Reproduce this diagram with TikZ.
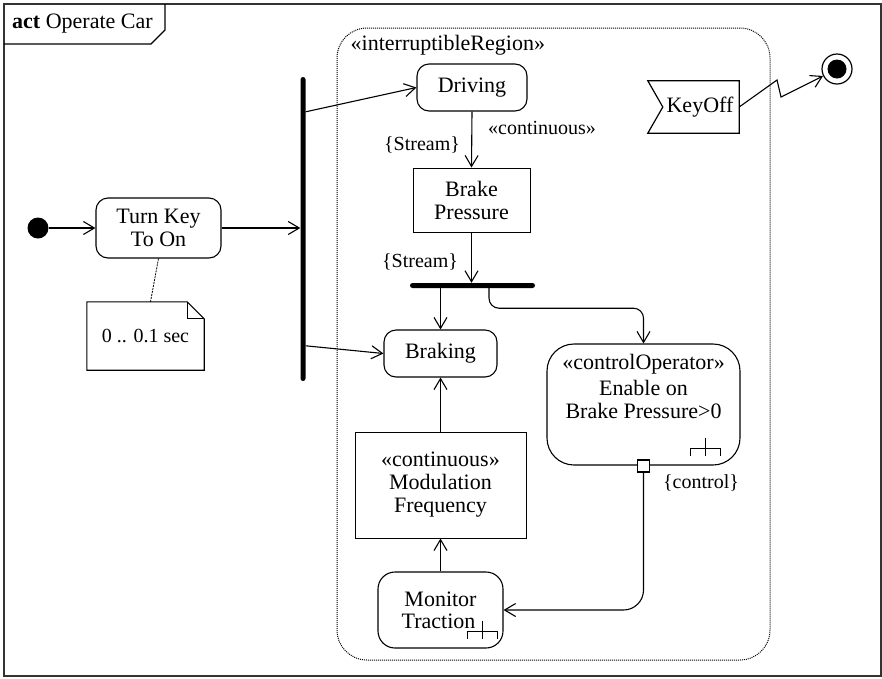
\documentclass[tikz,border=0pt]{standalone}
\usepackage{fontspec}
\setmainfont{Liberation Serif}
\usetikzlibrary{arrows.meta}
\begin{document}
\begin{tikzpicture}[x=1pt,y=-1pt,
  every node/.style={font=\fontsize{22}{23}\selectfont, inner sep=0pt},
  flow/.style={line width=1.1pt, -{Straight Barb[length=11pt,width=13pt,line width=1.1pt]}},
  action/.style={draw, line width=1.1pt, rounded corners=12pt, align=center},
  objnode/.style={draw, line width=1pt, align=center},
  bar/.style={fill=black, rounded corners=2.5pt, minimum width=5pt},
  lbl/.style={font=\fontsize{20}{22}\selectfont},
  rake/.pic={
    \draw[line width=1.1pt] (-15,7) -- (-15,0) -- (15,0) -- (15,7);
    \draw[line width=1.1pt] (0,-11) -- (0,7);
  }
]
\useasboundingbox (0,0) rectangle (882,678);
\fill[white] (0,0) rectangle (882,678);

% diagram frame with its name tag
\draw[line width=1.5pt, draw=black!80] (4,4) rectangle (881,676);
\draw[line width=1.2pt] (4,44) -- (151,44) -- (165,30) -- (165,4);
\node[anchor=west] (title) at (12,24) {\textbf{act} Operate Car};

% interruptible region
\node[draw, line width=1pt, dash pattern=on 1pt off 1pt, rounded corners=30pt,
      minimum width=433pt, minimum height=632pt] (region) at (553.5,344) {};
\node[anchor=west] (regionlbl) at ([xshift=14pt,yshift=-18pt]region.north west) {«interruptibleRegion»};

% initial and final nodes
\node[circle, fill=black, minimum size=21pt] (init) at (38,228) {};
\node[circle, draw, line width=1.2pt, minimum size=30pt] (final) at (837,69) {};
\node[circle, fill=black, minimum size=19pt] (finaldot) at (837,69) {};

% actions and object nodes
\node[action, minimum width=125pt, minimum height=60pt] (turnkey) at (158.5,228) {Turn Key\\To On};
\node[minimum width=117pt, minimum height=68pt, font=\fontsize{20}{22}\selectfont] (note) at (145.5,336) {0 .. 0.1 sec};
\draw[line width=1.1pt] (note.north west) -- ([xshift=-17pt]note.north east) -- ([yshift=-17pt]note.north east)
  -- (note.south east) -- (note.south west) -- cycle;
\draw[line width=1pt] ([xshift=-17pt]note.north east) -- ([xshift=-17pt,yshift=-17pt]note.north east) -- ([yshift=-17pt]note.north east);
\draw[line width=0.8pt, dash pattern=on 2pt off 1pt] (turnkey.south) -- ([xshift=5pt]note.north);

\node[bar, minimum height=304pt] (forkv) at (303,229) {};

\node[action, minimum width=110pt, minimum height=47pt] (driving) at (472,87.5) {Driving};
\node[objnode, minimum width=117pt, minimum height=64pt] (bp) at (471.5,200) {Brake\\Pressure};
\node[bar, minimum width=125pt, minimum height=5pt] (forkh) at (472.5,285.5) {};
\node[action, minimum width=113pt, minimum height=47pt] (braking) at (440.5,353.5) {Braking};
\node[action, rounded corners=27pt, minimum width=193pt, minimum height=121pt] (ctrl) at (643.5,404.5) {};
\node[align=center] (ctrltext) at (643.5,386) {«controlOperator»\\[3pt]Enable on\\Brake Pressure>0};
\pic at ([shift={(-35.5,-17)}]ctrl.south east) {rake};
\node[draw, fill=white, line width=1.1pt, minimum size=12pt] (pin) at (643.5,466) {};
\node[objnode, minimum width=171pt, minimum height=106pt] (modulation) at (440.5,485) {«continuous»\\Modulation\\Frequency};
\node[action, rounded corners=17pt, minimum width=125pt, minimum height=76pt,
      font=\fontsize{22}{22}\selectfont] (monitor) at (440.5,610) {Monitor\\Traction\hspace*{4pt}};
\pic at ([shift={(-21,-17)}]monitor.south east) {rake};

% accept event action
\node[minimum width=78pt, minimum height=52pt] (keyoff) at (700,107) {KeyOff};
\draw[line width=1.2pt] ([xshift=-13pt]keyoff.north west) -- (keyoff.north east) -- (keyoff.south east)
  -- ([xshift=-13pt]keyoff.south west) -- ([xshift=2pt]keyoff.west) -- cycle;

% flows
\coordinate (fv1) at ([yshift=-35pt]forkv.north east);
\coordinate (fv2) at ([yshift=-269pt]forkv.north east);
\coordinate (fh2) at ([xshift=16.5pt]forkh.south);
\coordinate (z1) at (777,80);
\coordinate (z2) at (781,97);

\draw[flow] (init) -- (turnkey);
\draw[flow] (turnkey.east) -- (turnkey.east -| forkv.west);
\draw[flow] (fv1) -- (driving.west);
\draw[flow] (fv2) -- (braking.west);
\draw[flow] (driving.south) -- (bp.north);
\draw[flow] (bp.south) -- (bp.south |- forkh.north);
\draw[flow] (braking.north |- forkh.south) -- (braking.north);
\draw[flow, rounded corners=10pt] (fh2) -- ++(0,20) -| (ctrl.north);
\draw[flow] (modulation.north) -- (braking.south);
\draw[flow] (monitor.north) -- (modulation.south);
\draw[flow, rounded corners=20pt] (pin.south) |- (monitor.east);
\draw[flow] (keyoff.east) -- (z1) -- (z2) -- (final);

% edge labels
\node[lbl] (s1) at (422,145) {\{Stream\}};
\node[lbl] (c1) at (542,128) {«continuous»};
\node[lbl] (s2) at (420,262) {\{Stream\}};
\node[lbl] (ctl) at (701,483) {\{control\}};
\end{tikzpicture}
\end{document}
